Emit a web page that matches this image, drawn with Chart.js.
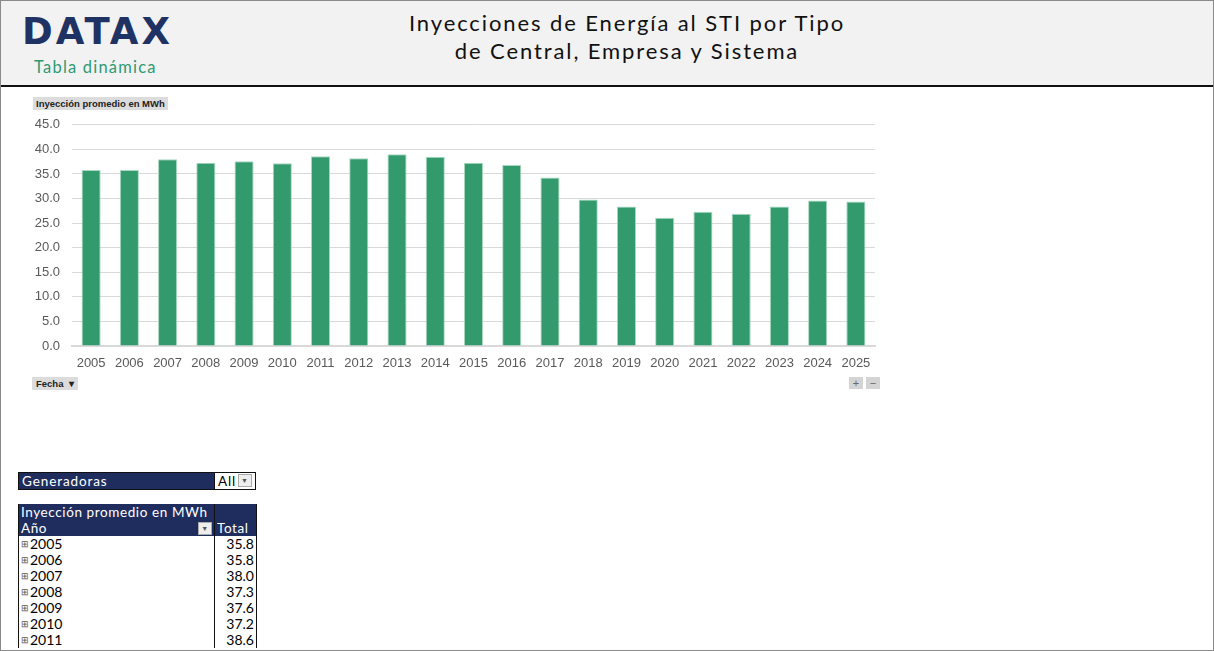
<!DOCTYPE html>
<html>
<head>
<meta charset="utf-8">
<script src="https://cdn.jsdelivr.net/npm/chart.js@4"></script>
<style>
  html, body { margin: 0; padding: 0; }
  body { width: 1214px; height: 651px; position: relative; overflow: hidden; background: #fff; font-family: Lato, "Open Sans", sans-serif; }
  #frame { position: absolute; left: 0; top: 0; width: 1212px; height: 649px; border: 1px solid #8a8a8a; }
  #header { position: absolute; left: 1px; top: 1px; width: 1212px; height: 84px; background: #f2f2f2; border-bottom: 2px solid #111; }
  #logo { position: absolute; left: 21px; top: 9px; font: bold 37px "DejaVu Sans", sans-serif; color: #1f3264; letter-spacing: 3px; }
  #sub { position: absolute; left: 33px; top: 56px; font: 16.5px Lato, sans-serif; color: #2e9a72; letter-spacing: 1.2px; }
  #title { position: absolute; left: 360px; width: 532px; top: 8px; text-align: center; font: 22px Lato, sans-serif; color: #111; line-height: 28px; letter-spacing: 1.9px; }
  .btn { position: absolute; background: #dcdcdc; font: bold 9.5px "Liberation Sans", Arial, sans-serif; color: #222; padding: 1px 3px; }
  #chartbox { position: absolute; left: 20px; top: 105px; width: 870px; height: 267px; }
  .pm { position: absolute; width: 14px; height: 12px; background: #d4d4d4; color: #666; font: 11px Arial; text-align: center; line-height: 12px; }
  table { border-collapse: collapse; position: absolute; font: 13.5px Lato, sans-serif; table-layout: fixed; }
  td { white-space: nowrap; overflow: hidden; }
  .cell { height: 16px; line-height: 16px; overflow: hidden; }
  #gen { left: 18px; top: 472px; width: 238px; }
  #gen td { height: 15px; padding: 0 3px; background: #1f2d5e; color: #fff; border: 1px solid #111; letter-spacing: 0.9px; }
  #gen td.all { background: #fff; color: #000; width: 34px; }
  #piv { left: 18px; top: 504px; width: 238px; }
  #piv td { padding: 0 2px; }
  #piv .h td { background: #1f2d5e; color: #fff; letter-spacing: 0.6px; }
  #piv .r td { font-size: 14px; }
  #piv td.c2 { border-left: 1px solid #111; text-align: right; }
  #piv tr td:first-child { border-left: 1px solid #111; }
  #piv tr td:last-child { border-right: 1px solid #111; }
  .dd { display: inline-block; width: 12px; height: 11px; background: #eee; border: 1px solid #aaa; vertical-align: middle; font-size: 7px; line-height: 11px; text-align: center; color: #555; }
  .ex { display: inline-block; font-size: 9px; line-height: 16px; vertical-align: top; color: #555; margin-right: 1px; }
</style>
</head>
<body>
<div id="frame"></div>
<div id="header">
  <div id="logo">DATAX</div>
  <div id="sub">Tabla dinámica</div>
  <div id="title">Inyecciones de Energía al STI por Tipo<br>de Central, Empresa y Sistema</div>
</div>
<div class="btn" style="left:33px;top:97px;">Inyección promedio en MWh</div>
<div id="chartbox"><canvas id="bars"></canvas></div>
<div class="btn" style="left:32px;top:377px;padding:1px 4px;">Fecha &nbsp;&#9662;</div>
<div class="pm" style="left:849px;top:377px;">+</div>
<div class="pm" style="left:866px;top:377px;">&minus;</div>

<table id="gen"><tr><td>Generadoras</td><td class="all">All <span class="dd" style="float:right;margin-top:1px">&#9660;</span></td></tr></table>
<table id="piv">
  <colgroup><col style="width:196px"><col style="width:42px"></colgroup>
  <tbody id="pivbody">
    <tr class="h"><td><div class="cell">Inyección promedio en MWh</div></td><td class="c2"><div class="cell"></div></td></tr>
    <tr class="h"><td><div class="cell">Año <span class="dd" style="float:right;margin-top:2px">&#9660;</span></div></td><td class="c2" style="text-align:left"><div class="cell">Total</div></td></tr>
  </tbody>
</table>

<script>
var years = ['2005', '2006', '2007', '2008', '2009', '2010', '2011', '2012', '2013', '2014', '2015',
             '2016', '2017', '2018', '2019', '2020', '2021', '2022', '2023', '2024', '2025'];
var avgMWh = [35.8, 35.8, 38.0, 37.3, 37.6, 37.2, 38.6, 38.2, 39.0, 38.5, 37.3,
              36.8, 34.3, 29.8, 28.4, 26.1, 27.3, 26.9, 28.4, 29.6, 29.4];
var tableRows = 7; // rows visible in the pivot table

// pivot table rows
var body = document.getElementById("pivbody");
for (var i = 0; i < tableRows; i++) {
    var tr = document.createElement("tr");
    tr.className = "r";
    tr.innerHTML = '<td><div class="cell"><span class="ex">&#8862;</span>' + years[i] + '</div></td>' +
                   '<td class="c2"><div class="cell">' + avgMWh[i].toFixed(1) + '</div></td>';
    body.appendChild(tr);
}

var ctx = document.getElementById("bars");
var mychart = new Chart(ctx, {
    type: 'bar',
    data: {
        labels: years,
        datasets: [{
            label: 'Inyección promedio en MWh',
            data: avgMWh,
            backgroundColor: '#339a6e',
            borderColor: '#a9d9c1',
            borderWidth: 1,
            categoryPercentage: 1.0,
            barPercentage: 0.5,
        }],
    },
    options: {
        responsive: true,
        maintainAspectRatio: false,
        animation: false,
        layout: { padding: { top: 2, right: 15, left: 0, bottom: 0 } },
        plugins: {
            legend: { display: false },
            tooltip: { enabled: false },
        },
        scales: {
            x: {
                grid: { display: false },
                border: { color: '#d9d9d9', width: 2 },
                ticks: { color: '#595959', font: { family: 'Liberation Sans', size: 13 }, maxRotation: 0, padding: 2 },
                afterFit: function (s) { s.height = 26; },
            },
            y: {
                min: 0,
                max: 45,
                ticks: {
                    stepSize: 5,
                    color: '#595959',
                    font: { family: 'Liberation Sans', size: 13 },
                    padding: 12,
                    callback: function (v) { return v.toFixed(1); },
                },
                grid: { color: '#d9d9d9', drawTicks: false },
                border: { display: false },
                afterFit: function (s) { s.width = 52; },
            },
        },
    },
});
</script>
</body>
</html>
